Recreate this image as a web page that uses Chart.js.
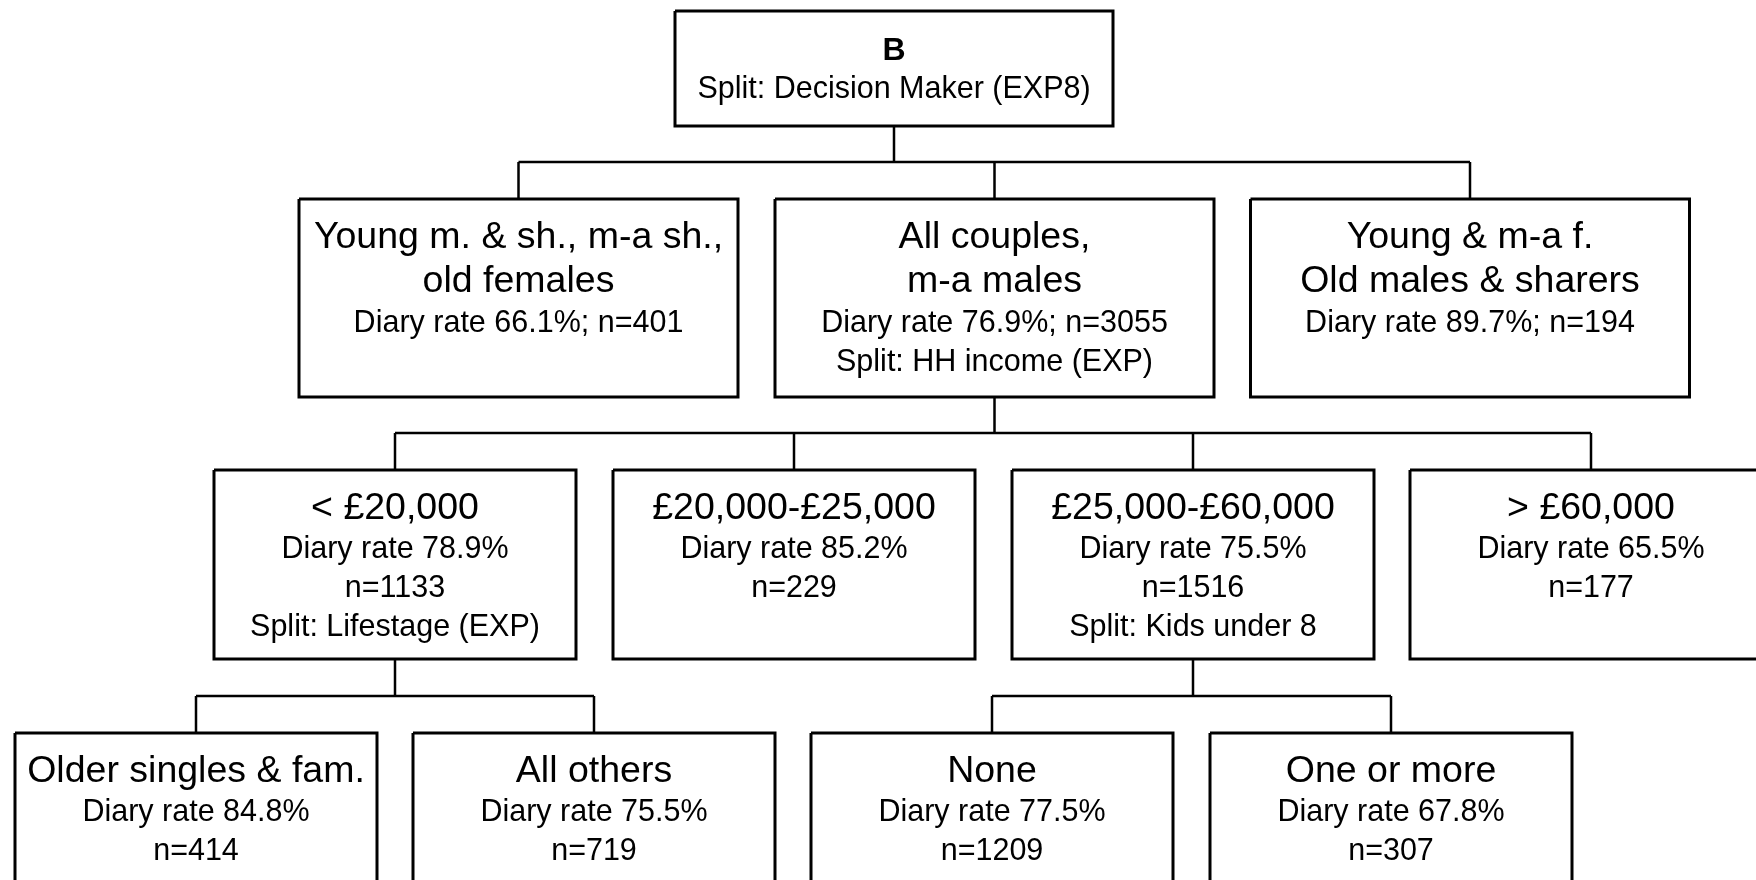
<!DOCTYPE html>
<html>
<head>
<meta charset="utf-8">
<script src="https://cdn.jsdelivr.net/npm/chart.js@4.4.1/dist/chart.umd.min.js"></script>
<style>
  html, body { margin: 0; padding: 0; background: #fff; }
  canvas { display: block; }
</style>
</head>
<body>
<canvas id="c" width="1756" height="880"></canvas>
<script>
// ---- DATA ----
const nodeTitles = [
  'B',
  'Young m. & sh., m-a sh.,|old females',
  'All couples,|m-a males',
  'Young & m-a f.|Old males & sharers',
  '< £20,000',
  '£20,000-£25,000',
  '£25,000-£60,000',
  '> £60,000',
  'Older singles & fam.',
  'All others',
  'None',
  'One or more'
];
const diaryRates  = [null, 66.1, 76.9, 89.7, 78.9, 85.2, 75.5, 65.5, 84.8, 75.5, 77.5, 67.8];
const sampleSizes = [null, 401, 3055, 194, 1133, 229, 1516, 177, 414, 719, 1209, 307];
const splitLabels = ['Decision Maker (EXP8)', null, 'HH income (EXP)', null, 'Lifestage (EXP)', null, 'Kids under 8', null, null, null, null, null];
const parentIndex = [-1, 0, 0, 0, 2, 2, 2, 2, 4, 4, 6, 6];

// ---- LAYOUT (diagram geometry, in axis units) ----
const nodeLevel   = [0, 1, 1, 1, 2, 2, 2, 2, 3, 3, 3, 3];
const nodeCenterX = [894, 518.5, 994.5, 1470, 395, 794, 1193, 1591, 196, 594, 992, 1391];
const levelTop    = [11, 199, 470, 733];
const levelBottom = [126, 397, 659, 910];
const levelWidth  = [438, 439, 362, 362];
const levelBarY   = [162, 433, 696];

// ---- BUILD DATASETS ----
const datasets = [];
const black = '#000';
nodeTitles.forEach((t, i) => {
  const lv = nodeLevel[i];
  const l = nodeCenterX[i] - levelWidth[lv] / 2, r = nodeCenterX[i] + levelWidth[lv] / 2;
  const top = levelTop[lv], bot = levelBottom[lv];
  datasets.push({
    data: [{x: l, y: top}, {x: r, y: top}, {x: r, y: bot}, {x: l, y: bot}, {x: l, y: top}],
    showLine: true, borderColor: black, borderWidth: 3, pointRadius: 0,
    fill: false, tension: 0, borderJoinStyle: 'miter', clip: false
  });
});
// connectors
nodeTitles.forEach((t, p) => {
  const kids = parentIndex.map((pp, k) => pp === p ? k : -1).filter(k => k >= 0);
  if (!kids.length) return;
  const lv = nodeLevel[p];
  const barY = levelBarY[lv];
  const seg = pts => datasets.push({
    data: pts, showLine: true, borderColor: black, borderWidth: 2.5, pointRadius: 0,
    fill: false, tension: 0, clip: false
  });
  seg([{x: nodeCenterX[p], y: levelBottom[lv]}, {x: nodeCenterX[p], y: barY}]);
  const xs = kids.map(k => nodeCenterX[k]).concat([nodeCenterX[p]]);
  seg([{x: Math.min(...xs), y: barY}, {x: Math.max(...xs), y: barY}]);
  kids.forEach(k => seg([{x: nodeCenterX[k], y: barY}, {x: nodeCenterX[k], y: levelTop[nodeLevel[k]]}]));
});

// ---- TEXT PLUGIN ----
const FONT = '"Liberation Sans", Arial, Helvetica, sans-serif';
const BIG = '37.5px ' + FONT, SMALL = '30.5px ' + FONT;
const textPlugin = {
  id: 'nodeText',
  afterDatasetsDraw(chart) {
    const {ctx, scales: {x, y}} = chart;
    ctx.save();
    ctx.fillStyle = '#000';
    ctx.textAlign = 'center';
    ctx.textBaseline = 'alphabetic';
    nodeTitles.forEach((title, i) => {
      const lv = nodeLevel[i];
      const cx = x.getPixelForValue(nodeCenterX[i]);
      const lines = [];
      if (lv === 0) {
        lines.push({t: title, f: 'bold 32px ' + FONT, dy: 49});
        lines.push({t: 'Split: ' + splitLabels[i], f: SMALL, dy: 38});
      } else {
        title.split('|').forEach((s, j) => lines.push({t: s, f: BIG, dy: j === 0 ? 49 : 44}));
        if (lv === 1) {
          lines.push({t: 'Diary rate ' + diaryRates[i].toFixed(1) + '%; n=' + sampleSizes[i], f: SMALL, dy: 40});
        } else {
          lines.push({t: 'Diary rate ' + diaryRates[i].toFixed(1) + '%', f: SMALL, dy: 39});
          lines.push({t: 'n=' + sampleSizes[i], f: SMALL, dy: 39});
        }
        if (splitLabels[i]) lines.push({t: 'Split: ' + splitLabels[i], f: SMALL, dy: 38.5});
      }
      let yy = levelTop[lv];
      lines.forEach(L => {
        yy += L.dy;
        ctx.font = L.f;
        ctx.fillText(L.t, cx, y.getPixelForValue(yy));
      });
    });
    ctx.restore();
  }
};

new Chart(document.getElementById('c'), {
  type: 'scatter',
  data: {datasets},
  options: {
    responsive: false,
    animation: false,
    devicePixelRatio: 1,
    layout: {padding: 0},
    plugins: {legend: {display: false}, tooltip: {enabled: false}},
    events: [],
    scales: {
      x: {type: 'linear', min: 0, max: 1756, display: false},
      y: {type: 'linear', min: 0, max: 880, reverse: true, display: false}
    }
  },
  plugins: [textPlugin]
});
</script>
</body>
</html>
